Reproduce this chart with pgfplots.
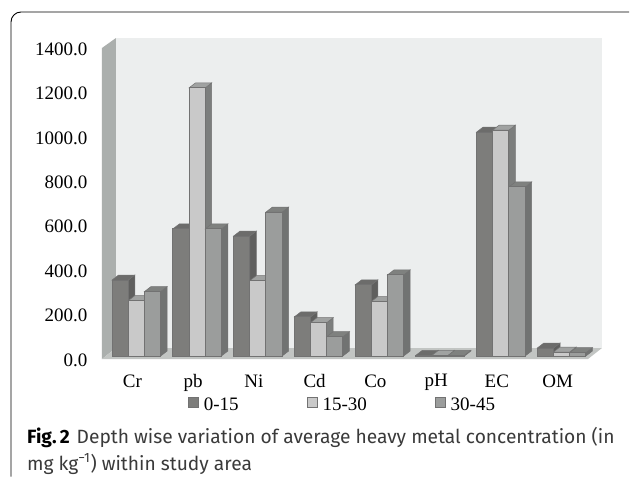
\documentclass[border=0pt]{standalone}
\usepackage{fontspec}
\setmainfont{Liberation Serif}
\newfontfamily\capfont{Fira Sans}
\usepackage{pgfplots}
\usepackage{pgfplotstable}
\pgfplotsset{compat=1.18}

\definecolor{wall}{HTML}{ECEEEE}
\definecolor{sidewall}{HTML}{ABAFAD}
\definecolor{floorc}{HTML}{C2C5C3}
\definecolor{frontA}{HTML}{7D7D7B}
\definecolor{sideA}{HTML}{5F5F5E}
\definecolor{topA}{HTML}{6C6C6B}
\definecolor{frontB}{HTML}{C9C9C9}
\definecolor{sideB}{HTML}{7C7E7D}
\definecolor{topB}{HTML}{A0A2A1}
\definecolor{frontC}{HTML}{9B9D9C}
\definecolor{sideC}{HTML}{717372}
\definecolor{topC}{HTML}{7F817F}
\definecolor{edge}{HTML}{727272}
\definecolor{captext}{HTML}{3A3A3A}

\pgfplotstableread{
idx a b c
0 342 249 290
1 572 1207 572
2 540 339 648
3 176 150 87
4 320 245 365
5 3 3 3
6 1008 1017 761
7 36 18 15
}\metals

% px offsets, 60.75 px per category
\pgfmathsetmacro{\barw}{16.2}
\pgfmathsetmacro{\pitch}{60.75}
\pgfmathsetmacro{\dx}{6.5/\pitch}
\pgfmathsetmacro{\dy}{5/0.2221}

% #1 column, #2 bar shift in px, #3 letter of the colours, #4 legend text
\newcommand{\series}[4]{%
  \pgfplotsforeachungrouped \i in {0,...,7}{%
    \pgfplotstablegetelem{\i}{#1}\of\metals
    \let\v\pgfplotsretval
    \pgfmathsetmacro{\xl}{\i+(#2-\barw/2)/\pitch}
    \pgfmathsetmacro{\xr}{\i+(#2+\barw/2)/\pitch}
    \pgfmathsetmacro{\xrr}{\xr+\dx}
    \pgfmathsetmacro{\xlr}{\xl+\dx}
    \pgfmathsetmacro{\vv}{\v+\dy}
    \edef\temp{\noexpand\addplot[forget plot,fill=side#3,draw=edge,line width=0.5pt,yshift=3pt]
      coordinates {(\xr,0) (\xrr,\dy) (\xrr,\vv) (\xr,\v)} --cycle;
      \noexpand\addplot[forget plot,fill=top#3,draw=edge,line width=0.5pt,yshift=3pt]
      coordinates {(\xl,\v) (\xlr,\vv) (\xrr,\vv) (\xr,\v)} --cycle;}%
    \temp
  }%
  \addplot[ybar,bar width=\barw pt,bar shift=#2 pt,yshift=3pt,fill=front#3,draw=edge,line width=1pt]
    table[x=idx,y=#1] {\metals};
  \addlegendentry{#4}
}

\begin{document}
\begin{tikzpicture}[x=1pt,y=1pt]
\path[use as bounding box] (0,0) rectangle (630,480);
\fill[white] (0,0) rectangle (630,480);
\draw[black,line width=0.9pt] (11,3.5) -- (11,458) arc[start angle=180,end angle=90,radius=10] -- (629,468);

\begin{axis}[
  at={(102pt,121pt)},
  anchor=south west,
  scale only axis,
  width=486pt,
  height=311pt,
  xmin=-0.5,xmax=7.5,
  ymin=0,ymax=1400,
  clip=false,
  axis line style={draw=none},
  major tick length=0pt,
  xtick={0,...,7},
  xticklabels={Cr,pb,Ni,Cd,Co,pH,EC,OM},
  ytick={0,200,...,1400},
  tick label style={font=\fontsize{19}{21}\selectfont,text=black},
  yticklabel style={xshift=-11pt,yshift=-1pt},
  xticklabel style={yshift=-12pt},
  /pgf/number format/.cd,fixed,fixed zerofill,precision=1,1000 sep={},assume math mode=true,
  /pgfplots/.cd,
  legend columns=3,
  legend style={at={(0.4949,-0.148)},anchor=center,draw=none,fill=none,
    font=\fontsize{19}{21}\selectfont,inner sep=0pt,
    /tikz/every even column/.append style={column sep=66pt}},
  legend image code/.code={\draw[#1,line width=0.7pt] (0pt,-5pt) rectangle (10pt,5pt);\path (13pt,0pt);},
]
% chart box: back wall, side wall, floor
\fill[wall] (axis cs:-0.27,49.5) rectangle (axis cs:7.73,1445);
\fill[sidewall] (axis cs:-0.5,0) -- (axis cs:-0.27,49.5) -- (axis cs:-0.27,1445) -- (axis cs:-0.5,1400) -- cycle;
\fill[floorc] (axis cs:-0.5,0) -- (axis cs:-0.27,49.5) -- (axis cs:7.73,49.5) -- (axis cs:7.5,0) -- cycle;

\series{a}{-12.2}{A}{0-15}
\series{b}{4}{B}{15-30}
\series{c}{20.2}{C}{30-45}
\end{axis}

\node[anchor=base west,text=captext,font=\capfont\fontsize{19.2}{22}\selectfont,inner sep=0pt] at (27,37)
  {{\bfseries\color{black}Fig.\,2}\hspace{7pt}Depth wise variation of average heavy metal concentration (in};
\node[anchor=base west,text=captext,font=\capfont\fontsize{19.2}{22}\selectfont,inner sep=0pt] at (27,10)
  {mg kg\textsuperscript{−1}) within study area};
\end{tikzpicture}
\end{document}
